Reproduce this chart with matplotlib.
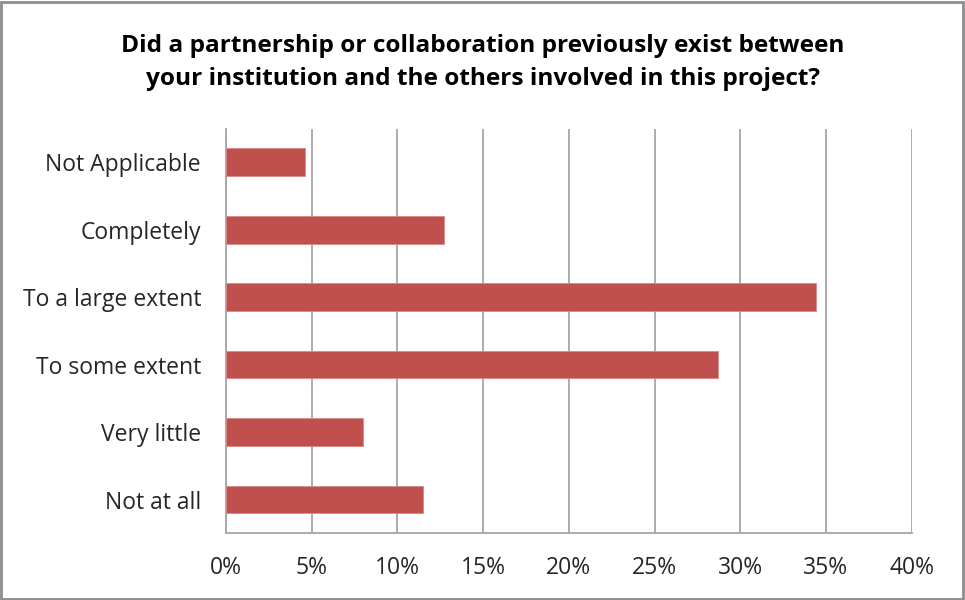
import matplotlib.pyplot as plt
from matplotlib.patches import Rectangle
from matplotlib.ticker import FuncFormatter

plt.rcParams['font.family'] = ['Open Sans', 'DejaVu Sans']

categories = ['Not at all', 'Very little', 'To some extent',
              'To a large extent', 'Completely', 'Not Applicable']
shares = [11.5, 8.0, 28.7, 34.4, 12.7, 4.6]
ticks = [0, 5, 10, 15, 20, 25, 30, 35, 40]

fig = plt.figure(figsize=(9.65, 6), dpi=100)
ax = fig.add_axes([0.2342, 0.1112, 0.7105, 0.6745])

ax.barh(range(len(categories)), shares, height=0.41, color='#C0504D',
        edgecolor='#D98A88', linewidth=0.6, zorder=3)

ax.set_xlim(0, 40)
ax.set_ylim(-0.5, len(categories) - 0.5)
ax.set_xticks(ticks)
ax.xaxis.set_major_formatter(FuncFormatter(lambda v, p: f'{v:.0f}%'))
ax.set_yticks(range(len(categories)))
ax.set_yticklabels(categories)
ax.tick_params(axis='both', length=0, labelsize=16.5, colors='#262626')
ax.tick_params(axis='y', pad=18)
ax.tick_params(axis='x', pad=16)

ax.grid(axis='x', color='#A6A6A6', linewidth=1.3, zorder=0)
for s in ['top', 'right']:
    ax.spines[s].set_visible(False)
for s in ['left', 'bottom']:
    ax.spines[s].set_color('#A6A6A6')
    ax.spines[s].set_linewidth(1.3)

fig.text(0.5, 0.896, 'Did a partnership or collaboration previously exist between\n'
         'your institution and the others involved in this project?',
         ha='center', va='center', fontsize=17.6, fontweight='bold',
         linespacing=1.48, color='#000000')

# outer frame
fig.patches.append(Rectangle((0.001, 0.002), 0.997, 0.995, transform=fig.transFigure,
                             fill=False, edgecolor='#8C8C8C', linewidth=2))

fig.savefig('out.png', dpi=100)
